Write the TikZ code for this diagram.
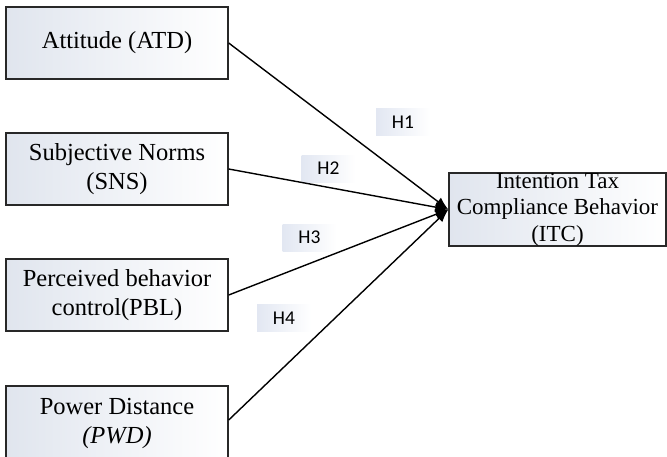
\documentclass[tikz,border=0pt]{standalone}
\usepackage{fontspec}
\setmainfont{Liberation Serif}
\newfontfamily\calibri{Carlito}
\usetikzlibrary{arrows.meta}
\definecolor{boxedge}{RGB}{40,40,40}
\definecolor{shadeblue}{RGB}{224,229,238}
\definecolor{labelblue}{RGB}{226,231,242}
\tikzset{
  varbox/.style={draw=boxedge, line width=1.4pt, left color=shadeblue, right color=white,
    minimum width=222pt, minimum height=72pt, inner sep=0pt, align=center,
    font=\fontsize{24.5}{29}\selectfont},
  hlabel/.style={left color=labelblue, right color=white, minimum width=54pt,
    minimum height=27pt, inner sep=0pt, font=\calibri\fontsize{19.5}{21}\selectfont},
  link/.style={line width=1.4pt, -{Latex[length=13pt,width=10pt]}}
}
\begin{document}
\begin{tikzpicture}[x=1pt,y=-1pt]
\useasboundingbox (0,0) rectangle (667,456);
\clip (0,0) rectangle (667,456);
\node[varbox] (atd) at (117,43) {Attitude (ATD)};
\node[varbox] (sns) at (117,169) {Subjective Norms\\(SNS)};
\node[varbox] (pbl) at (117,295) {Perceived behavior\\control(PBL)};
\node[varbox, minimum height=74pt] (pwd) at (117,423) {Power Distance\\\textit{(PWD)}};
\node[varbox, minimum width=217pt, minimum height=73pt, font=\fontsize{23}{26.5}\selectfont] (itc) at (557.5,209.5) {Intention Tax\\Compliance Behavior\\(ITC)};
\node[hlabel] (h1) at (403,122) {H1};
\node[hlabel] (h2) at (328.5,168.5) {H2};
\node[hlabel] (h3) at (309.5,237.5) {H3};
\node[hlabel] (h4) at (284,318) {H4};
\draw[link] (atd.east) -- (itc.west);
\draw[link] (sns.east) -- (itc.west);
\draw[link] (pbl.east) -- (itc.west);
\draw[link] ([yshift=3pt]pwd.east) -- (itc.west);
\end{tikzpicture}
\end{document}
